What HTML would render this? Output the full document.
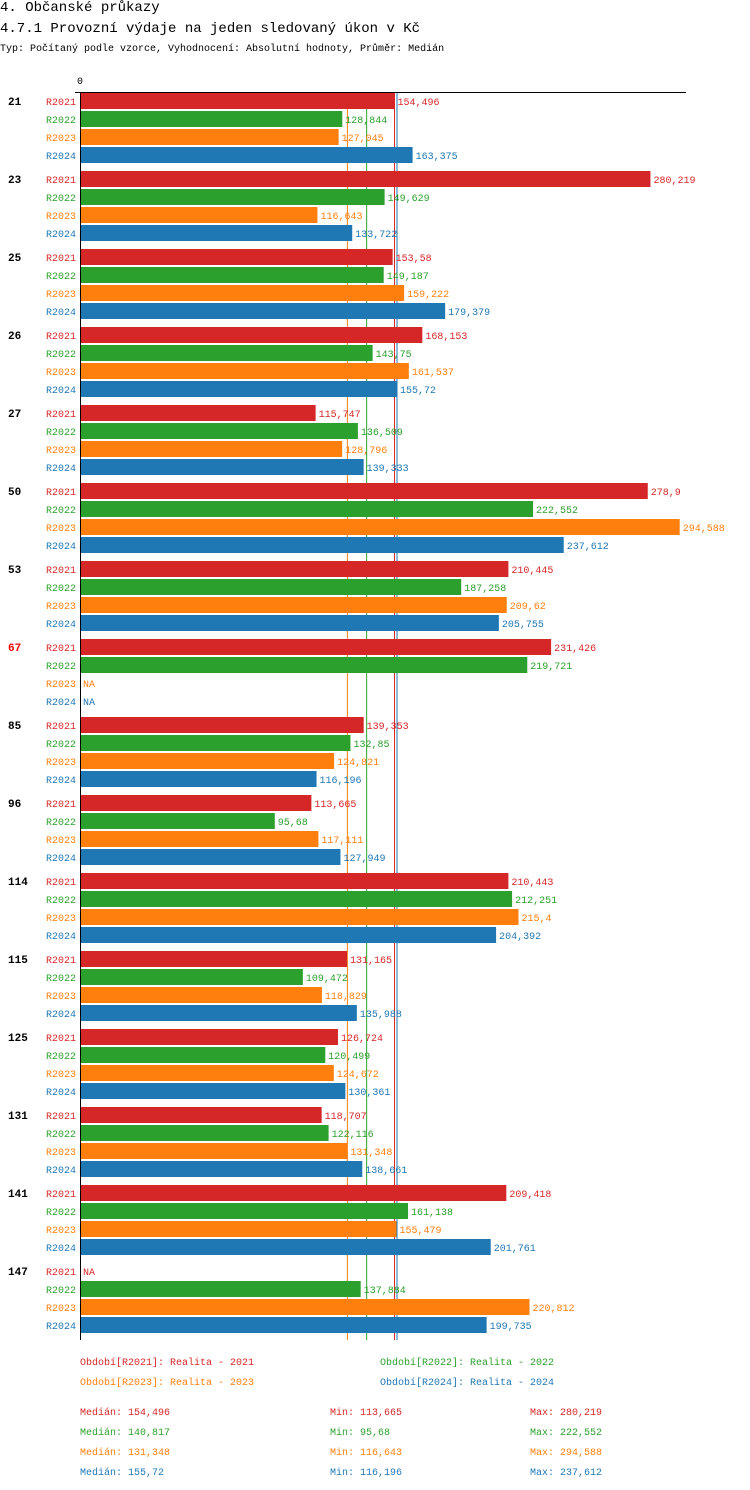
<!DOCTYPE html>
<html><head><meta charset="utf-8"><style>
body{margin:0;background:#fff;width:750px;height:1490px;overflow:hidden;font-family:"Liberation Mono","DejaVu Sans Mono",monospace;}
.t1{position:absolute;left:0;top:0;font-size:14px;}
.t2{position:absolute;left:0;top:21px;font-size:14px;}
.t3{position:absolute;left:0;top:44px;font-size:10px;}
svg{position:absolute;left:0;top:0}
</style></head><body>
<div class="t1">4. Občanské průkazy</div>
<div class="t2">4.7.1 Provozní výdaje na jeden sledovaný úkon v Kč</div>
<div class="t3">Typ: Počítaný podle vzorce, Vyhodnocení: Absolutní hodnoty, Průměr: Medián</div>
<svg id="c" width="750" height="1490" font-family="Liberation Mono, DejaVu Sans Mono, monospace" font-size="11"></svg>
<script>
const categories=["21","23","25","26","27","50","53","67","85","96","114","115","125","131","141","147"];
const series=["R2021","R2022","R2023","R2024"];
const colors=["#d62728","#2ca02c","#ff7f0e","#1f77b4"];
const v2021=[154.496,280.219,153.58,168.153,115.747,278.9,210.445,231.426,139.353,113.665,210.443,131.165,126.724,118.707,209.418,null];
const v2022=[128.844,149.629,149.187,143.75,136.509,222.552,187.258,219.721,132.85,95.68,212.251,109.472,120.499,122.116,161.138,137.884];
const v2023=[127.045,116.643,159.222,161.537,128.796,294.588,209.62,null,124.821,117.111,215.4,118.829,124.672,131.348,155.479,220.812];
const v2024=[163.375,133.722,179.379,155.72,139.333,237.612,205.755,null,116.196,127.949,204.392,135.988,130.361,138.661,201.761,199.735];
const medians=[154.496,140.817,131.348,155.72];
const mins=[113.665,95.68,116.643,116.196];
const maxs=[280.219,222.552,294.588,237.612];
const redCats=["67"];
const vals=[v2021,v2022,v2023,v2024];
const svg=document.getElementById('c');
const NS="http://www.w3.org/2000/svg";
const x0=80,scale=599.7/294.588;
const xs=v=>x0+v*scale;
const yb=(g,k)=>93+g*78+k*18;
const fmt=v=>String(v).replace('.',',');
function mk(t,a,txt){const e=document.createElementNS(NS,t);for(const k in a)e.setAttribute(k,a[k]);if(txt!=null)e.textContent=txt;svg.appendChild(e);return e;}
let e=mk('text',{x:x0,y:84,'text-anchor':'middle','font-size':10},'0');


[2,1,0,3].forEach(k=>{
  let l=mk('line',{x1:xs(medians[k]),x2:xs(medians[k]),y1:92,y2:1340,stroke:colors[k],'stroke-width':1});
  
  
});
categories.forEach((c,g)=>{
  let t=mk('text',{x:8,y:yb(g,0)+12,'font-weight':'bold',fill:redCats.includes(c)?'#e00':'#000'},c);
  
  
  series.forEach((s,k)=>{
    const y=yb(g,k),v=vals[k][g];
    let l=mk('text',{x:76,y:y+12,'text-anchor':'end',fill:colors[k],'font-size':10},s);
    
    
    if(v!=null){
      let r=mk('rect',{x:x0,y:y,width:xs(v)-x0,height:16,fill:colors[k]});
      
      
    }
    let vt=mk('text',{x:(v!=null?xs(v):x0)+3,y:y+12,fill:colors[k],'font-size':10},v!=null?fmt(v):'NA');
    
    
  });
});
e=mk('line',{x1:75,x2:686,y1:92.5,y2:92.5,stroke:'#000','stroke-width':1});


e=mk('line',{x1:80.5,x2:80.5,y1:92,y2:1340,stroke:'#000','stroke-width':1});


const legPos=[[80,1365],[380,1365],[80,1385],[380,1385]];
series.forEach((s,k)=>{
  let t=mk('text',{x:legPos[k][0],y:legPos[k][1],fill:colors[k],'font-size':10},'Období['+s+']: Realita - '+s.slice(1));
  
  
  const y=1415+k*20;
  t=mk('text',{x:80,y:y,fill:colors[k],'font-size':10},'Medián: '+fmt(medians[k]));
  
  
  t=mk('text',{x:330,y:y,fill:colors[k],'font-size':10},'Min: '+fmt(mins[k]));
  
  
  t=mk('text',{x:530,y:y,fill:colors[k],'font-size':10},'Max: '+fmt(maxs[k]));
  
  
});
</script>
</body></html>
